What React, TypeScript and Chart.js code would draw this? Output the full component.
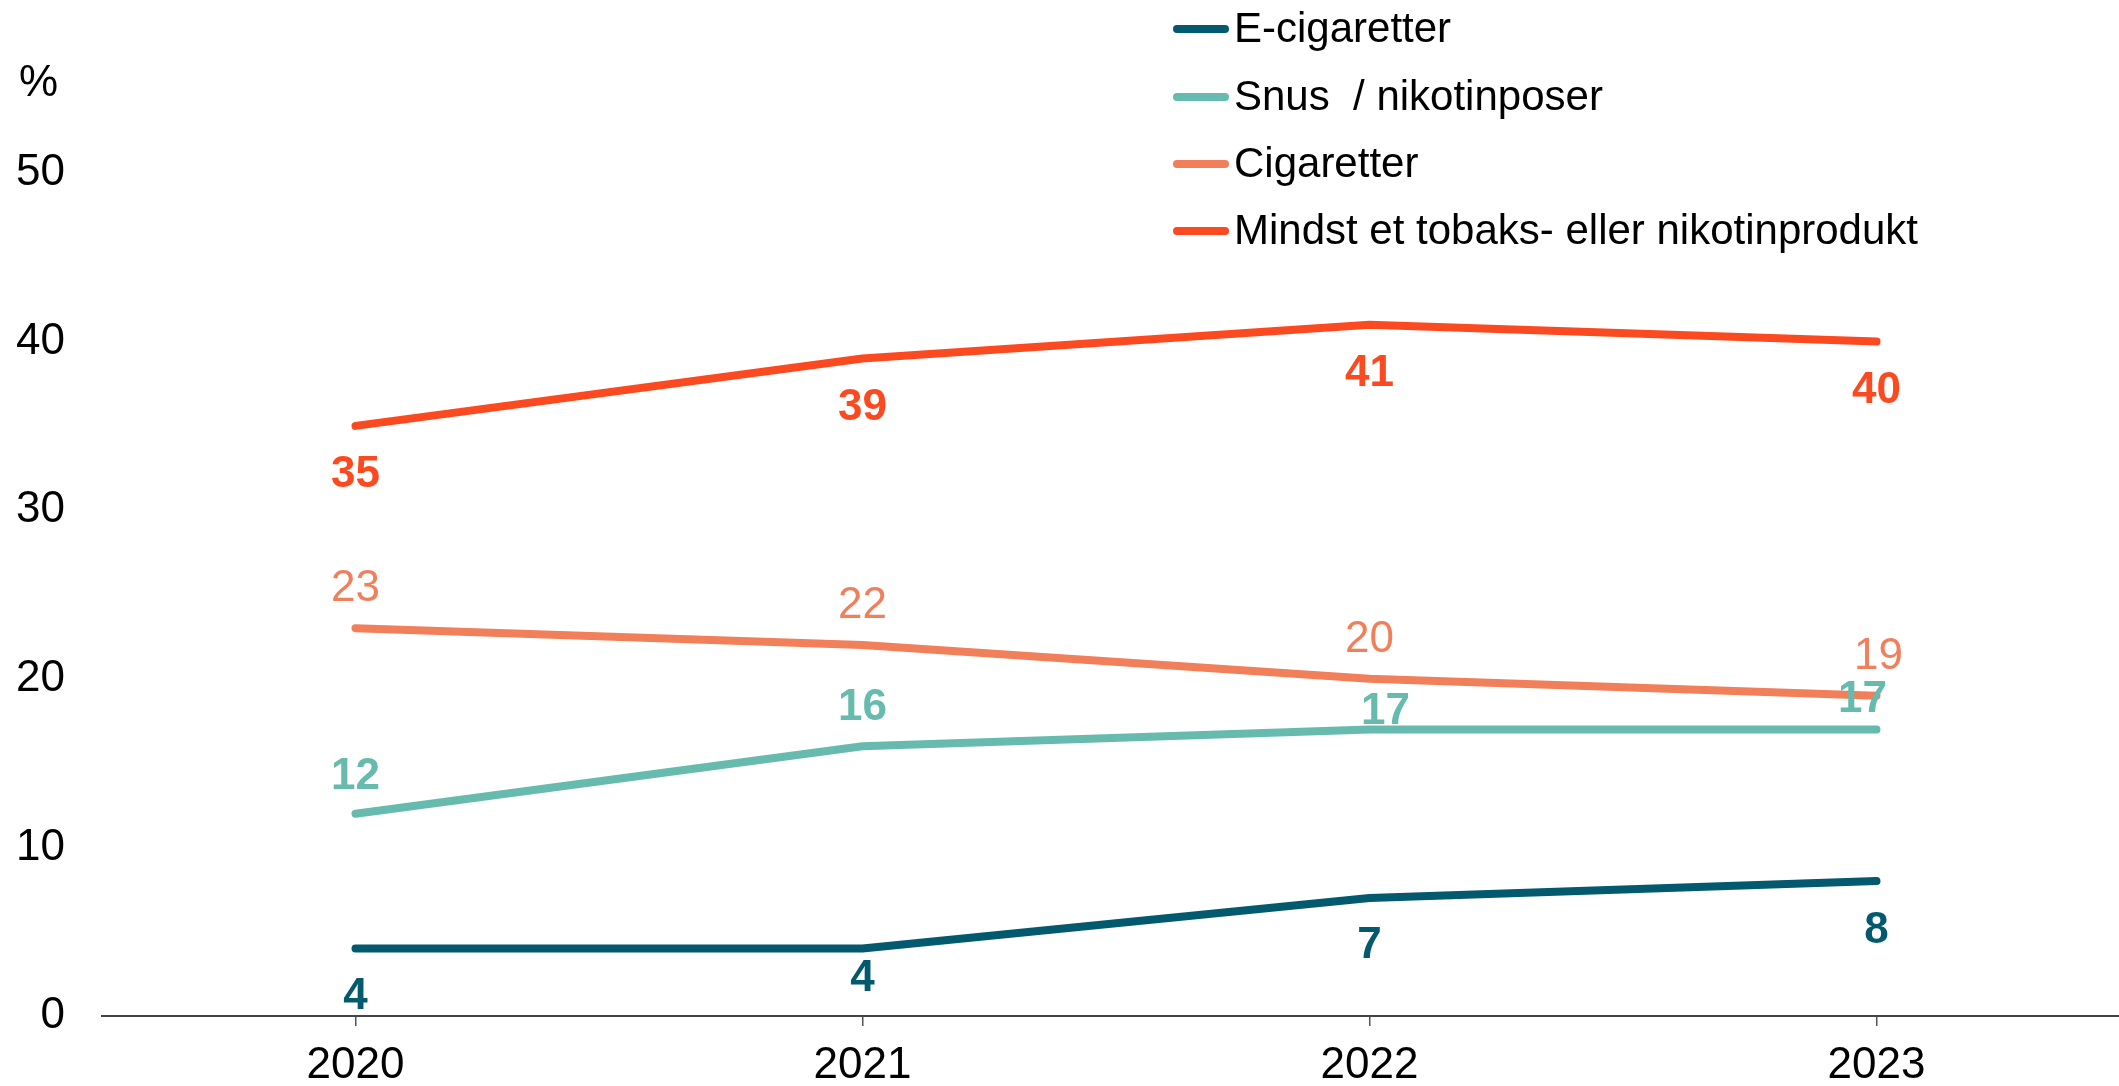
import React, { useEffect, useRef } from "react";
import { Chart, registerables } from "chart.js";

Chart.register(...registerables);

const categories = ["2020", "2021", "2022", "2023"];
const eCigaretter = [4, 4, 7, 8];
const snus = [12, 16, 17, 17];
const cigaretter = [23, 22, 20, 19];
const mindst = [35, 39, 41, 40];

const seriesLabels = [
  "E-cigaretter",
  "Snus  / nikotinposer",
  "Cigaretter",
  "Mindst et tobaks- eller nikotinprodukt",
];
const seriesColors = ["#03596E", "#66BBAE", "#F07F5A", "#FC4A20"];

const FONT = "'Liberation Sans', Arial, sans-serif";

// label placement (dx, dy in px relative to the point)
const labelOffsets = [
  { bold: true, d: [[0, 48], [0, 30], [0, 48], [0, 50]] },
  { bold: true, d: [[0, -37], [0, -38], [16, -18], [-14, -30]] },
  { bold: false, d: [[0, -39], [0, -39], [0, -39], [2, -39]] },
  { bold: true, d: [[0, 49], [0, 49], [0, 49], [0, 49]] },
];

const labelPlugin = {
  id: "valueLabels",
  afterDatasetsDraw(chart: any) {
    const ctx = chart.ctx;
    ctx.save();
    ctx.textAlign = "center";
    ctx.textBaseline = "middle";
    chart.data.datasets.forEach((ds: any, di: number) => {
      const meta = chart.getDatasetMeta(di);
      const cfg = labelOffsets[di];
      ctx.fillStyle = ds.borderColor;
      ctx.font = `${cfg.bold ? "bold " : ""}44px ${FONT}`;
      meta.data.forEach((pt: any, i: number) => {
        const [dx, dy] = cfg.d[i];
        ctx.fillText(String(ds.data[i]), pt.x + dx, pt.y + dy);
      });
    });
    ctx.restore();
  },
};

const legendPlugin = {
  id: "customLegend",
  afterDraw(chart: any) {
    const ctx = chart.ctx;
    ctx.save();
    const rows = [29, 97, 164, 231];
    chart.data.datasets.forEach((ds: any, di: number) => {
      const y = rows[di];
      ctx.strokeStyle = ds.borderColor;
      ctx.lineWidth = 8;
      ctx.lineCap = "round";
      ctx.beginPath();
      ctx.moveTo(1177, y);
      ctx.lineTo(1225, y);
      ctx.stroke();
      ctx.fillStyle = "#000";
      ctx.font = `42px ${FONT}`;
      ctx.textAlign = "left";
      ctx.textBaseline = "middle";
      ctx.fillText(ds.label, 1234, y + 1);
    });
    // unit label
    ctx.font = `44px ${FONT}`;
    ctx.textAlign = "left";
    ctx.textBaseline = "middle";
    ctx.fillText("%", 19, 84);
    ctx.restore();
  },
};

export default function App() {
  const ref = useRef<HTMLCanvasElement>(null);
  useEffect(() => {
    if (!ref.current) return;
    const seriesData = [eCigaretter, snus, cigaretter, mindst];
    const chart = new Chart(ref.current, {
      type: "line",
      data: {
        labels: categories,
        datasets: seriesData.map((d, i) => ({
          label: seriesLabels[i],
          data: d,
          borderColor: seriesColors[i],
          backgroundColor: seriesColors[i],
          borderWidth: 8,
          pointRadius: 0,
          borderCapStyle: "round" as const,
          borderJoinStyle: "round" as const,
          tension: 0,
          fill: false,
        })),
      },
      options: {
        animation: false,
        responsive: false,
        devicePixelRatio: 1,
        layout: { padding: { top: 173, right: 10, left: 0, bottom: 0 } },
        plugins: {
          legend: { display: false },
          tooltip: { enabled: false },
        },
        scales: {
          x: {
            type: "category",
            offset: true,
            grid: {
              display: true,
              drawOnChartArea: false,
              drawTicks: true,
              tickLength: 10,
              color: "#555",
              lineWidth: 1.5,
              offset: false,
            },
            border: { display: true, color: "#444", width: 2 },
            ticks: {
              color: "#000",
              font: { family: FONT, size: 44 },
              padding: 13,
              maxRotation: 0,
            },
            afterFit(scale: any) {
              scale.height = 70;
            },
          },
          y: {
            min: 0,
            max: 50,
            ticks: {
              stepSize: 10,
              color: "#000",
              font: { family: FONT, size: 44 },
              padding: 37,
            },
            grid: { display: false, drawTicks: false },
            border: { display: false },
            afterFit(scale: any) {
              scale.width = 102;
            },
          },
        },
      },
      plugins: [labelPlugin, legendPlugin],
    });
    return () => chart.destroy();
  }, []);
  return (
    <div
      style={{
        position: "fixed",
        left: 0,
        top: 0,
        width: 2119,
        height: 1086,
        overflow: "hidden",
        background: "#fff",
      }}
    >
      <canvas
        ref={ref}
        width={2140}
        height={1086}
        style={{ display: "block", width: 2140, height: 1086 }}
      />
    </div>
  );
}
